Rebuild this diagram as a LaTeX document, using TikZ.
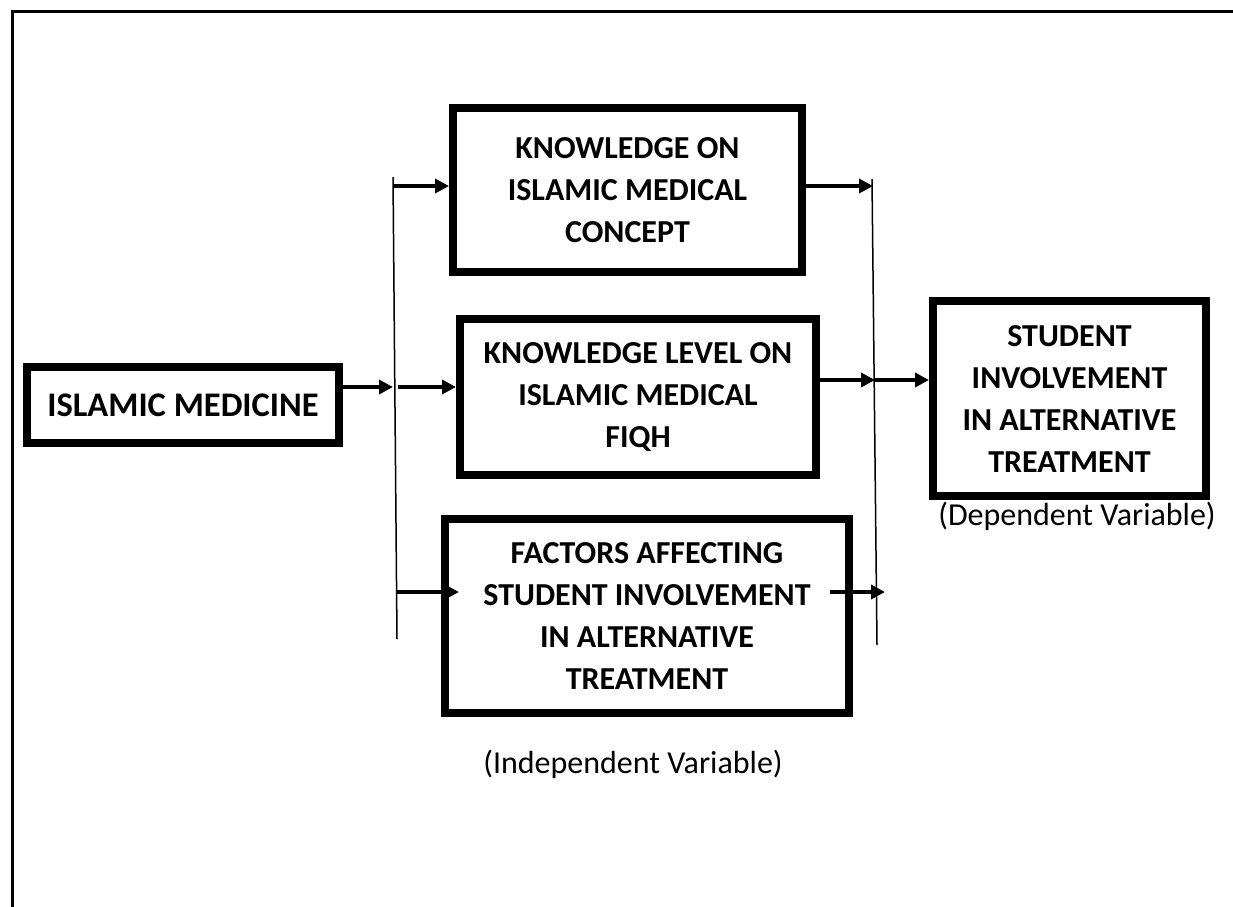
\documentclass[tikz,border=0pt]{standalone}
\usepackage{fontspec}
\setmainfont{Carlito}
\usetikzlibrary{arrows.meta}

\begin{document}
\begin{tikzpicture}[x=1pt,y=-1pt]
	\tikzstyle{box}=[draw=black,line width=8pt,align=center,inner sep=0pt,font=\bfseries\fontsize{32}{42}\selectfont]
	\tikzstyle{arr}=[line width=3.5pt,-{Triangle[length=14pt,width=14pt]}]
	\tikzstyle{bus}=[line width=1.5pt]
	\tikzstyle{note}=[font=\fontsize{32}{38}\selectfont]
	\useasboundingbox (0,0) rectangle (1233,906);
	% frame
	\draw[line width=3pt] (1240,11) -- (12,11) -- (12,915);
	% boxes
	\node[box,minimum width=312pt,minimum height=76pt,font=\bfseries\fontsize{34.5}{42}\selectfont](im) at (183,405) {ISLAMIC MEDICINE};
	\node[box,minimum width=349pt,minimum height=164pt](kc) at (627.5,190) {KNOWLEDGE ON\\ISLAMIC MEDICAL\\CONCEPT};
	\node[box,minimum width=356pt,minimum height=156pt](kf) at (638,397) {KNOWLEDGE LEVEL ON\\ISLAMIC MEDICAL\\FIQH};
	\node[box,minimum width=404pt,minimum height=194pt](fa) at (647,616) {FACTORS AFFECTING\\STUDENT INVOLVEMENT\\IN ALTERNATIVE\\TREATMENT};
	\node[box,minimum width=273pt,minimum height=195pt](si) at (1069.5,398.5) {STUDENT\\INVOLVEMENT\\IN ALTERNATIVE\\TREATMENT};
	\node[note](dv) at (1077,516) {(Dependent Variable)};
	\node[note](iv) at (633,764) {(Independent Variable)};
	% bus lines
	\coordinate (lt) at (393,177);
	\coordinate (lb) at (397,639);
	\coordinate (rt) at (872,179);
	\coordinate (rb) at (877,645);
	\draw[bus] (lt) -- (lb);
	\draw[bus] (rt) -- (rb);
	\coordinate (l1) at (393,186);
	\coordinate (l2) at (393,387);
	\coordinate (l3) at (398,387);
	\coordinate (l4) at (397,592);
	\coordinate (r1) at (873,186);
	\coordinate (r2) at (875,380);
	\coordinate (r3) at (885,592);
	% arrows
	\draw[arr] ([yshift=18pt]im.east) -- (l2);
	\draw[arr] (l1) -- ([yshift=4pt]kc.west);
	\draw[arr] (l3) -- ([yshift=10pt]kf.west);
	\draw[arr] (l4) -- ([xshift=18pt,yshift=24pt]fa.west);
	\draw[arr] ([yshift=4pt]kc.east) -- (r1);
	\draw[arr] ([yshift=17pt]kf.east) -- (r2);
	\draw[arr] (r2) -- ([yshift=18.5pt]si.west);
	\draw[arr] ([xshift=-23pt,yshift=24pt]fa.east) -- (r3);
\end{tikzpicture}
\end{document}
